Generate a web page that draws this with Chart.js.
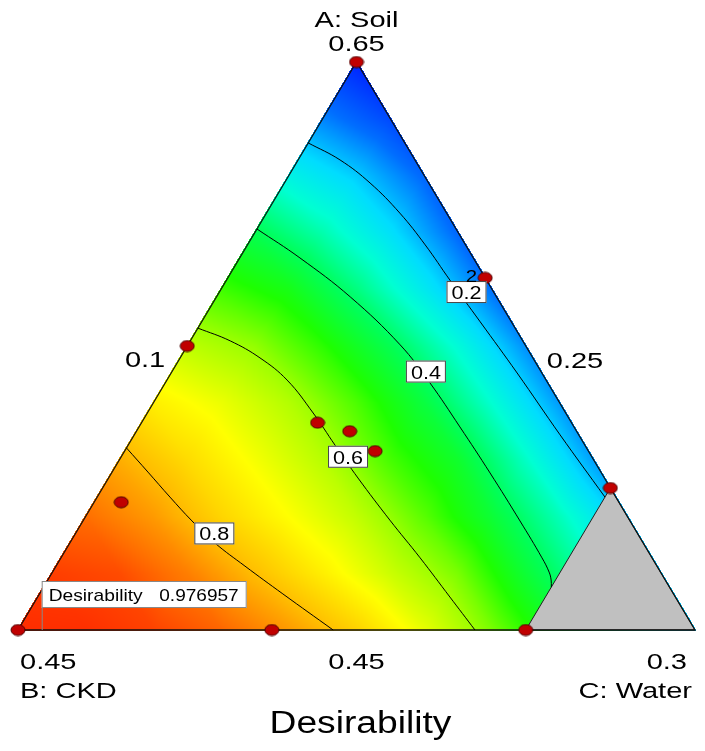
<!DOCTYPE html>
<html>
<head>
<meta charset="utf-8">
<title>Desirability</title>
<script src="https://cdn.jsdelivr.net/npm/chart.js@4.4.1/dist/chart.umd.min.js"></script>
<style>
  html, body { margin: 0; padding: 0; background: #fff; }
  #wrap { width: 705px; height: 751px; }
</style>
</head>
<body>
<div id="wrap"><canvas id="chart" width="705" height="751"></canvas></div>
<script>
// mixture components (real fractions)
const componentNames = ['A: Soil', 'B: CKD', 'C: Water'];
const lowLimits = [0.45, 0.25, 0.1];
const highLimits = [0.65, 0.45, 0.3];
const vertexLabels = ['0.65', '0.45', '0.3'];   // A top, B left, C right
const edgeLabels = ['0.45', '0.25', '0.1'];     // A low (bottom), B low (right side), C low (left side)
const waterLimit = 0.25;                        // C above this is not allowed (grey)
const chartTitle = 'Desirability';

// design points
const designA = [0.65, 0.574, 0.55, 0.523, 0.520, 0.513, 0.495, 0.45, 0.45, 0.45, 0.50];
const designB = [0.25, 0.25, 0.35, 0.325, 0.317, 0.313, 0.397, 0.45, 0.375, 0.30, 0.25];
const designC = [0.10, 0.176, 0.10, 0.152, 0.163, 0.174, 0.108, 0.10, 0.175, 0.25, 0.25];
const designReps = [1, 2, 1, 1, 1, 1, 1, 1, 1, 1, 1];

// contour lines, points as [A, C]
const contourLevels = ['0.2', '0.4', '0.6', '0.8'];
const contour02 = [[0.6215, 0.100], [0.6155, 0.1124], [0.6074, 0.1253], [0.5968, 0.1394], [0.5856, 0.1525],
  [0.5732, 0.1660], [0.5585, 0.1823], [0.5405, 0.2022], [0.5187, 0.2258], [0.4968, 0.250]];
const contour04 = [[0.5912, 0.100], [0.5810, 0.1178], [0.5673, 0.1395], [0.5504, 0.1627], [0.5370, 0.1782],
  [0.5215, 0.1948], [0.5053, 0.2118], [0.4884, 0.2291], [0.4754, 0.2421], [0.4704, 0.2467],
  [0.4676, 0.2487], [0.4651, 0.250]];
const contour06 = [[0.5563, 0.100], [0.5518, 0.1118], [0.5458, 0.1236], [0.5380, 0.1355], [0.5264, 0.1490],
  [0.5151, 0.1611], [0.5035, 0.1737], [0.4887, 0.1905], [0.4754, 0.2061], [0.4616, 0.2218], [0.450, 0.235]];
const contour08 = [[0.5141, 0.100], [0.5056, 0.1106], [0.4968, 0.1215], [0.4884, 0.1322], [0.4806, 0.1429],
  [0.4725, 0.1558], [0.4627, 0.1719], [0.450, 0.1931]];

// desirability read off the colour field, rows from A low to A high,
// each row from C low upwards (step 1/10 of the range)
const desirabilityGrid = [
  [0.975, 0.972, 0.95, 0.91, 0.845, 0.77, 0.675, 0.57, 0.45, 0.33, 0.21],
  [0.955, 0.94, 0.88, 0.80, 0.725, 0.645, 0.57, 0.44, 0.32, 0.20],
  [0.90, 0.845, 0.765, 0.70, 0.635, 0.545, 0.44, 0.32, 0.19],
  [0.82, 0.755, 0.69, 0.625, 0.53, 0.45, 0.31, 0.165],
  [0.725, 0.68, 0.62, 0.535, 0.43, 0.30, 0.16],
  [0.63, 0.59, 0.51, 0.41, 0.29, 0.15],
  [0.525, 0.475, 0.37, 0.25, 0.12],
  [0.41, 0.33, 0.23, 0.11],
  [0.27, 0.205, 0.11],
  [0.14, 0.07],
  [0.02]
];

// best point flag
const bestA = 0.45;
const bestC = 0.107;
const bestValue = '0.976957';

// ---- layout (label anchors in A/C units) ----
const contourLabelAt = [[0.569, 0.173], [0.541, 0.175], [0.511, 0.167], [0.484, 0.141]];

const range = highLimits[0] - lowLimits[0];
function toXY(A, C) {
  const a = (A - lowLimits[0]) / range;
  const c = (C - lowLimits[2]) / range;
  return { x: c + a / 2, y: a };
}

// colour map for the field
const colourStops = [
  [0.00, [0, 20, 255]], [0.12, [0, 110, 255]], [0.22, [0, 220, 255]], [0.30, [0, 255, 210]],
  [0.40, [0, 255, 90]], [0.50, [30, 255, 0]], [0.60, [160, 255, 0]], [0.70, [255, 255, 0]],
  [0.80, [255, 190, 0]], [0.90, [255, 110, 0]], [0.98, [255, 40, 0]]
];
function colourFor(d) {
  if (d <= colourStops[0][0]) return colourStops[0][1];
  for (let k = 1; k < colourStops.length; k++) {
    if (d <= colourStops[k][0]) {
      const [d0, c0] = colourStops[k - 1], [d1, c1] = colourStops[k];
      const t = (d - d0) / (d1 - d0);
      return [0, 1, 2].map(m => c0[m] + t * (c1[m] - c0[m]));
    }
  }
  return colourStops[colourStops.length - 1][1];
}

function fieldAt(a, c) {
  const n = desirabilityGrid.length - 1;
  const i = a * n, j = c * n;
  const i0 = Math.max(0, Math.min(Math.floor(i), n - 1));
  const j0 = Math.max(0, Math.min(Math.floor(j), n - 1 - i0));
  const fi = i - i0, fj = j - j0;
  const v00 = desirabilityGrid[i0][j0];
  const v10 = desirabilityGrid[i0 + 1][j0];
  const v01 = desirabilityGrid[i0][j0 + 1];
  if (fi + fj <= 1 || i0 + j0 >= n - 1) {
    return v00 + fi * (v10 - v00) + fj * (v01 - v00);
  }
  const v11 = desirabilityGrid[i0 + 1][j0 + 1];
  return v11 + (1 - fi) * (v01 - v11) + (1 - fj) * (v10 - v11);
}

function drawText(ctx, text, x, y, align, size, sx) {
  ctx.save();
  ctx.font = size + 'px "Liberation Sans", Arial, sans-serif';
  ctx.fillStyle = '#000';
  ctx.textAlign = align;
  ctx.textBaseline = 'alphabetic';
  ctx.translate(x, y);
  ctx.scale(sx, 1);
  ctx.fillText(text, 0, 0);
  ctx.restore();
}

const ternaryPlugin = {
  id: 'ternary',
  beforeDatasetsDraw(chart) {
    const { ctx, chartArea: area, scales: { x, y } } = chart;
    const px = (A, C) => { const p = toXY(A, C); return [x.getPixelForValue(p.x), y.getPixelForValue(p.y)]; };

    // colour field
    const w = Math.ceil(area.right - area.left) + 1, h = Math.ceil(area.bottom - area.top) + 1;
    const off = document.createElement('canvas');
    off.width = w; off.height = h;
    const octx = off.getContext('2d');
    const img = octx.createImageData(w, h);
    for (let r = 0; r < h; r++) {
      const a = y.getValueForPixel(area.top + r + 0.5);
      for (let q = 0; q < w; q++) {
        const c = x.getValueForPixel(area.left + q + 0.5) - a / 2;
        const b = 1 - a - c;
        if (a < -0.002 || c < -0.002 || b < -0.002) continue;
        const col = colourFor(fieldAt(Math.max(0, a), Math.max(0, c)));
        const k = (r * w + q) * 4;
        img.data[k] = col[0]; img.data[k + 1] = col[1]; img.data[k + 2] = col[2]; img.data[k + 3] = 255;
      }
    }
    octx.putImageData(img, 0, 0);
    ctx.drawImage(off, area.left, area.top);

    // excluded region
    const g1 = px(lowLimits[0], waterLimit), g2 = px(1 - lowLimits[1] - waterLimit, waterLimit),
      g3 = px(lowLimits[0], highLimits[2]);
    ctx.save();
    ctx.beginPath();
    ctx.moveTo(g1[0], g1[1]); ctx.lineTo(g2[0], g2[1]); ctx.lineTo(g3[0], g3[1]); ctx.closePath();
    ctx.fillStyle = '#c0c0c0';
    ctx.fill();
    ctx.strokeStyle = '#222';
    ctx.lineWidth = 1;
    ctx.stroke();

    // triangle outline
    const tA = px(highLimits[0], lowLimits[2]), tB = px(lowLimits[0], lowLimits[2]), tC = px(lowLimits[0], highLimits[2]);
    ctx.beginPath();
    ctx.moveTo(tA[0], tA[1]); ctx.lineTo(tB[0], tB[1]); ctx.lineTo(tC[0], tC[1]); ctx.closePath();
    ctx.strokeStyle = '#111';
    ctx.lineWidth = 1.3;
    ctx.stroke();
    ctx.restore();
  },
  afterDatasetsDraw(chart) {
    const { ctx, scales: { x, y } } = chart;
    const px = (A, C) => { const p = toXY(A, C); return [x.getPixelForValue(p.x), y.getPixelForValue(p.y)]; };

    // contour labels
    contourLevels.forEach((lbl, i) => {
      const [cx, cy] = px(contourLabelAt[i][0], contourLabelAt[i][1]);
      ctx.save();
      ctx.fillStyle = '#fff';
      ctx.strokeStyle = '#444';
      ctx.lineWidth = 1;
      ctx.fillRect(cx - 20, cy - 11, 40, 22);
      ctx.strokeRect(cx - 19.5, cy - 10.5, 39, 21);
      ctx.restore();
      drawText(ctx, lbl, cx, cy + 7, 'center', 18, 1.2);
    });

    // replicate count
    designReps.forEach((n, i) => {
      if (n > 1) {
        const [dx, dy] = px(designA[i], designC[i]);
        drawText(ctx, String(n), dx - 8, dy + 4, 'right', 17, 1.2);
      }
    });

    // best point flag
    const [fx, fy] = px(bestA, bestC);
    ctx.save();
    ctx.strokeStyle = '#888';
    ctx.lineWidth = 1;
    ctx.beginPath();
    ctx.moveTo(fx + 0.5, fy); ctx.lineTo(fx + 0.5, fy - 22);
    ctx.stroke();
    ctx.fillStyle = '#fff';
    ctx.fillRect(fx, fy - 49, 205, 27);
    ctx.strokeRect(fx + 0.5, fy - 48.5, 204, 26);
    ctx.restore();
    drawText(ctx, 'Desirability', fx + 7, fy - 29, 'left', 17, 1.13);
    drawText(ctx, bestValue, fx + 197, fy - 29, 'right', 17, 1.12);

    // vertex and side labels
    const tA = px(highLimits[0], lowLimits[2]), tB = px(lowLimits[0], lowLimits[2]), tC = px(lowLimits[0], highLimits[2]);
    drawText(ctx, componentNames[0], tA[0], tA[1] - 35, 'center', 22, 1.32);
    drawText(ctx, vertexLabels[0], tA[0], tA[1] - 11, 'center', 22, 1.32);
    drawText(ctx, vertexLabels[1], tB[0] + 2, tB[1] + 39, 'left', 22, 1.32);
    drawText(ctx, componentNames[1], tB[0] + 2, tB[1] + 68, 'left', 22, 1.32);
    drawText(ctx, vertexLabels[2], tC[0] - 8, tC[1] + 39, 'right', 22, 1.32);
    drawText(ctx, componentNames[2], tC[0] - 3, tC[1] + 68, 'right', 22, 1.32);
    drawText(ctx, edgeLabels[0], (tB[0] + tC[0]) / 2, tB[1] + 39, 'center', 22, 1.32);
    drawText(ctx, edgeLabels[1], (tA[0] + tC[0]) / 2 + 21, (tA[1] + tC[1]) / 2 + 22, 'left', 22, 1.32);
    drawText(ctx, edgeLabels[2], (tA[0] + tB[0]) / 2 - 22, (tA[1] + tB[1]) / 2 + 21, 'right', 22, 1.32);
    drawText(ctx, chartTitle, (tB[0] + tC[0]) / 2 + 4, 733, 'center', 31, 1.2);
  }
};

// point marker: slightly wide ellipse like the original
const dot = document.createElement('canvas');
dot.width = 16; dot.height = 13;
const dctx = dot.getContext('2d');
dctx.beginPath();
dctx.ellipse(8, 6.5, 7, 5.5, 0, 0, Math.PI * 2);
dctx.fillStyle = '#c00000';
dctx.fill();
dctx.strokeStyle = '#4a0000';
dctx.lineWidth = 1;
dctx.stroke();

const contourSets = [contour02, contour04, contour06, contour08].map(pts => ({
  data: pts.map(p => toXY(p[0], p[1])),
  showLine: true,
  borderColor: '#000',
  borderWidth: 1,
  pointRadius: 0,
  tension: 0.4,
  clip: false,
  order: 2
}));

const designSet = {
  data: designA.map((a, i) => toXY(a, designC[i])),
  pointStyle: dot,
  pointRadius: 7,
  showLine: false,
  clip: false,
  order: 0
};

Chart.defaults.font.family = '"Liberation Sans", Arial, sans-serif';

new Chart(document.getElementById('chart'), {
  type: 'scatter',
  data: { datasets: contourSets.concat([designSet]) },
  options: {
    responsive: false,
    animation: false,
    devicePixelRatio: 1,
    layout: { padding: { left: 18, right: 10, top: 62, bottom: 121 } },
    plugins: { legend: { display: false }, tooltip: { enabled: false } },
    scales: {
      x: { type: 'linear', min: 0, max: 1, display: false },
      y: { type: 'linear', min: 0, max: 1, display: false }
    }
  },
  plugins: [ternaryPlugin]
});
</script>
</body>
</html>
